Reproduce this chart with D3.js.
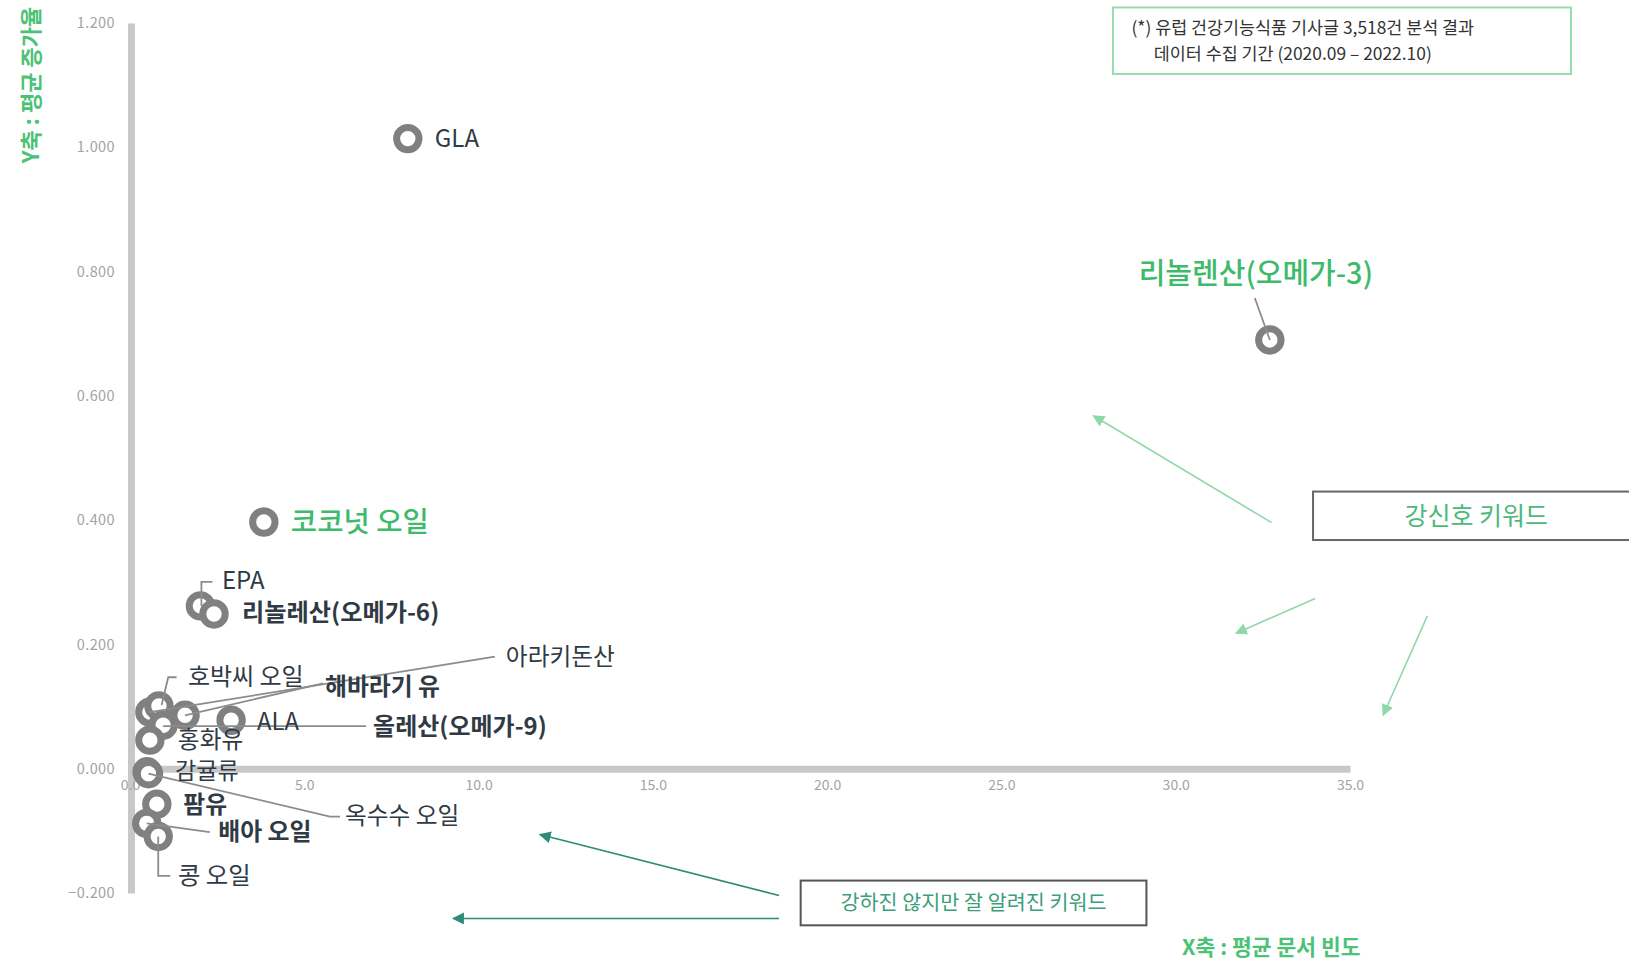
<!DOCTYPE html>
<html><head><meta charset="utf-8">
<script src="https://cdn.jsdelivr.net/npm/d3@7"></script>
<style>body{margin:0;background:#fff;} svg{display:block;}</style>
</head><body>
<svg id="chart" width="1629" height="962"></svg>
<script>
// ---- data ----
const names = ["GLA","리놀렌산(오메가-3)","코코넛 오일","EPA","리놀레산(오메가-6)","아라키돈산","호박씨 오일","해바라기 유","ALA","올레산(오메가-9)","홍화유","감귤류","옥수수 오일","팜유","배아 오일","콩 오일"];
const xValues = [7.97, 32.70, 3.84, 2.02, 2.41, 0.57, 0.83, 1.58, 2.90, 0.95, 0.57, 0.49, 0.53, 0.77, 0.48, 0.81];
const yValues = [1.014, 0.690, 0.397, 0.262, 0.249, 0.091, 0.101, 0.086, 0.078, 0.070, 0.046, -0.005, -0.008, -0.057, -0.088, -0.109];
const xTicks = [0, 5, 10, 15, 20, 25, 30, 35];
const yTicks = [-0.2, 0, 0.2, 0.4, 0.6, 0.8, 1.0, 1.2];
const xTitle = "X축 : 평균 문서 빈도";
const yTitle = "Y축 : 평균 증가율";
const noteLines = ["(*) 유럽 건강기능식품 기사글 3,518건 분석 결과", "데이터 수집 기간 (2020.09 – 2022.10)"];
const strongLabel = "강신호 키워드";
const weakLabel = "강하진 않지만 잘 알려진 키워드";

// ---- layout (label offsets in px relative to point) ----
const DARK = "#2f3a45", GREEN = "#3dba6a";
const labelLayout = {
  "GLA": {dx:27, dy:0, size:24, w:400, c:DARK},
  "리놀렌산(오메가-3)": {dx:-14, dy:-66, size:29, w:500, c:GREEN, anchor:"middle", leader:[[0,0],[-15,-42]]},
  "코코넛 오일": {dx:27, dy:0, size:28.6, w:500, c:GREEN},
  "EPA": {dx:21.5, dy:-25, size:24, w:400, c:DARK, leader:[[1,0],[1,-24],[12,-24]]},
  "리놀레산(오메가-6)": {dx:28, dy:-1, size:24.2, w:600, c:DARK},
  "아라키돈산": {dx:356, dy:-55.5, size:23.7, w:400, c:DARK, leader:[[0,0],[345,-55.5]]},
  "호박씨 오일": {dx:29, dy:-29.5, size:24, w:400, c:DARK, leader:[[2.7,-1],[9.3,-28.7],[17.7,-28.7]]},
  "해바라기 유": {dx:140, dy:-28.5, size:23.8, w:600, c:DARK, leader:[[0,0],[138,-32]]},
  "ALA": {dx:26, dy:1.5, size:23.8, w:400, c:DARK},
  "올레산(오메가-9)": {dx:210, dy:1.5, size:24, w:600, c:DARK, leader:[[0,1],[203,1]]},
  "홍화유": {dx:28, dy:0, size:23.7, w:400, c:DARK},
  "감귤류": {dx:28, dy:-1, size:23.1, w:400, c:DARK},
  "옥수수 오일": {dx:196.5, dy:42.5, size:23.7, w:400, c:DARK, leader:[[0,0],[181.5,43],[191.5,43]]},
  "팜유": {dx:26.5, dy:1, size:23.8, w:600, c:DARK},
  "배아 오일": {dx:71.5, dy:8.5, size:23.9, w:600, c:DARK, leader:[[0,0],[63,8.7]]},
  "콩 오일": {dx:19.7, dy:39, size:24.4, w:400, c:DARK, leader:[[0,0],[0,39.5],[12,39.5]]}
};

const FONT = "'Noto Sans CJK KR','Noto Sans',sans-serif";
const svg = d3.select("#chart");

const x = d3.scaleLinear().domain([0, 35]).range([130, 1350]);
const y = d3.scaleLinear().domain([-0.2, 1.2]).range([893, 23]);

// ---- axes ----
const yAxis = d3.axisLeft(y).tickValues(yTicks).tickFormat(d3.format(".3f")).tickSize(0).tickSizeOuter(0).tickPadding(16);
const gy = svg.append("g").attr("transform", `translate(${x(0)+1},0)`).call(yAxis);
gy.select(".domain").attr("stroke", "#c8c8c8").attr("stroke-width", 7);
gy.selectAll("text").attr("font-family", FONT).attr("font-size", 14.5).attr("letter-spacing", 0.4).attr("fill", "#a3a3a3");

const xAxis = d3.axisBottom(x).tickValues(xTicks).tickFormat(d3.format(".1f")).tickSize(0).tickSizeOuter(0).tickPadding(11);
const gx = svg.append("g").attr("transform", `translate(0,${y(0)})`).call(xAxis);
gx.select(".domain").attr("stroke", "#c8c8c8").attr("stroke-width", 7);
gx.selectAll("text").attr("font-family", FONT).attr("font-size", 14).attr("fill", "#a3a3a3");

// ---- axis titles ----
svg.append("text").attr("transform", "translate(31,85) rotate(-90)")
  .attr("text-anchor", "middle").attr("dy", "0.35em")
  .attr("font-family", FONT).attr("font-size", 22).attr("font-weight", 700)
  .attr("fill", "#4cc276").text(yTitle);
svg.append("text").attr("x", 1182).attr("y", 947).attr("dy", "0.35em")
  .attr("font-family", FONT).attr("font-size", 21.5).attr("font-weight", 700)
  .attr("fill", "#4cc276").text(xTitle);

// ---- annotations (in data coordinates) ----
const defs = svg.append("defs");
function marker(id, color) {
  defs.append("marker").attr("id", id).attr("viewBox", "0 0 10 10")
    .attr("refX", 9).attr("refY", 5).attr("markerWidth", 12).attr("markerHeight", 12)
    .attr("markerUnits", "userSpaceOnUse").attr("orient", "auto")
    .append("path").attr("d", "M0,0 L10,5 L0,10 Z").attr("fill", color);
}
marker("ag", "#8fd8a9");
marker("at", "#2f8a78");

const arrows = [
  {from:[32.75, 0.396], to:[27.64, 0.568], m:"ag", c:"#8fd8a9"},
  {from:[34.00, 0.274], to:[31.73, 0.218], m:"ag", c:"#8fd8a9"},
  {from:[37.22, 0.246], to:[35.95, 0.086], m:"ag", c:"#8fd8a9"},
  {from:[18.62, -0.204], to:[11.76, -0.106], m:"at", c:"#2f8a78"},
  {from:[18.62, -0.241], to:[9.27, -0.241], m:"at", c:"#2f8a78"}
];
svg.append("g").selectAll("line").data(arrows).join("line")
  .attr("x1", d => x(d.from[0])).attr("y1", d => y(d.from[1]))
  .attr("x2", d => x(d.to[0])).attr("y2", d => y(d.to[1]))
  .attr("stroke", d => d.c).attr("stroke-width", 1.6)
  .attr("marker-end", d => `url(#${d.m})`);

// note box
const noteBox = {x0:28.20, x1:41.34, y0:1.225, y1:1.118};
svg.append("rect").attr("x", x(noteBox.x0)).attr("y", y(noteBox.y0))
  .attr("width", x(noteBox.x1) - x(noteBox.x0)).attr("height", y(noteBox.y1) - y(noteBox.y0))
  .attr("fill", "#fff").attr("stroke", "#97dbb0").attr("stroke-width", 2);
const noteTextPos = [[28.73, 1.192], [29.37, 1.151]];
svg.append("g").selectAll("text").data(noteLines).join("text")
  .attr("x", (d, i) => x(noteTextPos[i][0])).attr("y", (d, i) => y(noteTextPos[i][1]))
  .attr("dy", "0.35em").attr("font-family", FONT).attr("font-size", 17.4).attr("fill", "#333")
  .text(d => d);

// strong signal box
const strongBox = {x0:33.94, x1:47, y0:0.446, y1:0.368, tx:38.62, ty:0.407};
svg.append("rect").attr("x", x(strongBox.x0)).attr("y", y(strongBox.y0))
  .attr("width", x(strongBox.x1) - x(strongBox.x0)).attr("height", y(strongBox.y1) - y(strongBox.y0))
  .attr("fill", "#fff").attr("stroke", "#666").attr("stroke-width", 2);
svg.append("text").attr("x", x(strongBox.tx)).attr("y", y(strongBox.ty)).attr("dy", "0.35em")
  .attr("text-anchor", "middle").attr("font-family", FONT).attr("font-size", 25)
  .attr("fill", "#4cb97a").text(strongLabel);

// weak-but-known box
const weakBox = {x0:19.24, x1:29.16, y0:-0.180, y1:-0.252, tx:24.2, ty:-0.216};
svg.append("rect").attr("x", x(weakBox.x0)).attr("y", y(weakBox.y0))
  .attr("width", x(weakBox.x1) - x(weakBox.x0)).attr("height", y(weakBox.y1) - y(weakBox.y0))
  .attr("fill", "#fff").attr("stroke", "#555").attr("stroke-width", 2);
svg.append("text").attr("x", x(weakBox.tx)).attr("y", y(weakBox.ty)).attr("dy", "0.35em")
  .attr("text-anchor", "middle").attr("font-family", FONT).attr("font-size", 20.7)
  .attr("fill", "#3d9e7a").text(weakLabel);

// ---- points ----
const data = names.map((n, i) => ({name:n, x:xValues[i], y:yValues[i], L:labelLayout[n]}));

svg.append("g").selectAll("circle").data(data).join("circle")
  .attr("cx", d => x(d.x)).attr("cy", d => y(d.y)).attr("r", 11.2)
  .attr("fill", "#fff").attr("stroke", "#808080").attr("stroke-width", 7);

svg.append("g").selectAll("path").data(data.filter(d => d.L.leader)).join("path")
  .attr("d", d => d3.line()(d.L.leader.map(p => [x(d.x) + p[0], y(d.y) + p[1]])))
  .attr("fill", "none").attr("stroke", "#8c8c8c").attr("stroke-width", 1.8);

svg.append("g").selectAll("text").data(data).join("text")
  .attr("x", d => x(d.x) + d.L.dx).attr("y", d => y(d.y) + d.L.dy).attr("dy", "0.35em")
  .attr("text-anchor", d => d.L.anchor || "start")
  .attr("font-family", FONT).attr("font-size", d => d.L.size).attr("font-weight", d => d.L.w)
  .attr("fill", d => d.L.c).text(d => d.name);
</script>
</body></html>
